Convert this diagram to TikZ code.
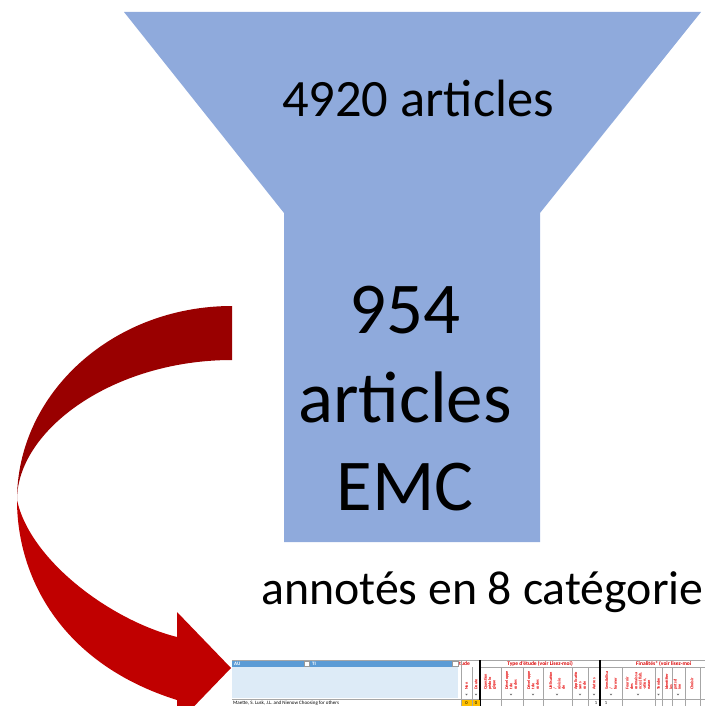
\documentclass[tikz,border=0pt]{standalone}
\usepackage{fontspec}
\setmainfont{Carlito}
\begin{document}
\begin{tikzpicture}[x=1pt,y=-1pt,
  bigtxt/.style={inner sep=0pt,anchor=base,font=\fontsize{73}{80}\selectfont},
  midtxt/.style={inner sep=0pt,anchor=base,font=\fontsize{52.5}{60}\selectfont},
  annot/.style={inner sep=0pt,anchor=base west,font=\fontsize{47.8}{50}\selectfont},
  hdr/.style={inner sep=0pt,anchor=west,text=white,font=\fontsize{5}{5}\selectfont\bfseries},
  redhdr/.style={inner sep=0pt,text=red!85!black,font=\fontsize{5.5}{5.5}\selectfont\bfseries},
  rot/.style={inner sep=0pt,rotate=90,anchor=west,text=red!90!black,align=left,font=\fontsize{4.2}{4.3}\selectfont\bfseries},
  gridline/.style={draw=black!35,line width=0.4pt},
  thick sep/.style={draw=black,line width=1.4pt},
  ddbox/.style={draw=black!40,fill=white,line width=0.3pt}
]
\definecolor{funnelblue}{HTML}{8FAADC}
\definecolor{arrowdark}{HTML}{990000}
\definecolor{arrowlight}{HTML}{C00000}
\definecolor{xlhead}{HTML}{5B9BD5}
\definecolor{xlpale}{HTML}{DDEBF7}
\definecolor{xlyellow}{HTML}{FFC000}
\useasboundingbox (0,0) rectangle (705,706);
\clip (0,0) rectangle (705,706);

% funnel
\fill[funnelblue] (124,12) -- (701,12) -- (540,213) -- (540,542) -- (284,542) -- (284,213) -- cycle;
\node[midtxt] (n4920) at (418,117) {4920 articles};
\node[bigtxt] (n954) at (405,333) {954};
\node[bigtxt] (nart) at (405,422) {articles};
\node[bigtxt] (nemc) at (405,510) {EMC};

\node[annot] (annot) at (261,604) {annotés en 8 catégorie};

% twisted curved arrow
\fill[arrowdark] (232,306) .. controls (113,306) and (17,393) .. (17,500)
  .. controls (17,430) and (113,360) .. (232,360) -- cycle;
\fill[arrowlight] (17,500) .. controls (30,560) and (110,620) .. (177,637)
  -- (177,612) -- (231,668) -- (177,724) -- (177,700)
  .. controls (62,664) and (17,578) .. (17,500) -- cycle;

% spreadsheet strip
\fill[xlhead] (232,660) rectangle (458,667);
\fill[xlpale] (232,667) rectangle (458,698);
\node[hdr] (au) at (234,663.5) {AU};
\node[hdr] (ti) at (312,663.5) {TI};
\draw[ddbox] (304,661) rectangle (309.5,666);
\draw[ddbox] (452.5,661) rectangle (458,666);
\node[redhdr,anchor=west] (etude) at (459,663.5) {tude};
\node[redhdr] (type) at (540,663.5) {Type d'étude (voir Lisez-moi)};
\node[redhdr,anchor=west] (fin) at (636,663.5) {Finalités* (voir lisez-moi};

% grid
\draw[gridline] (232,660) -- (705,660);
\draw[gridline] (480,667) -- (705,667);
\draw[gridline] (232,699) -- (705,699);
\foreach \gx in {461,472,501,523,543,572,588,622,655,662,672,685,700}
  \draw[gridline] (\gx,667) -- (\gx,706);
\draw[gridline] (461,660) -- (461,706);
\draw[thick sep] (480,660) -- (480,706);
\draw[thick sep] (600,660) -- (600,706);

% column headings
\node[rot] (c1) at (466.5,690) {Non};
\node[rot] (c2) at (476,690) {Doute};
\node[rot] (c3) at (490,690) {Question\\ pédolo\\ gique};
\node[rot] (c4) at (511,690) {Développe\\ t de\\ codes};
\node[rot] (c5) at (533,690) {Développe\\ t de\\ codes};
\node[rot] (c6) at (557,690) {Utilisation\\ /\\ révisio\\ de};
\node[rot] (c7) at (580,690) {Applicatio\\ sans\\ code};
\node[rot] (c8) at (594,690) {Autres};
\node[rot] (c9) at (611,690) {Sensibilisa\\ /\\ former};
\node[rot] (c10) at (638,690) {Fournir\\ des\\ connaissa\\ nces (fiab.\\ -ation,\\ naran};
\node[rot] (c11) at (658.5,690) {Tendre};
\node[rot] (c12) at (673,690) {Identifier\\ les\\ pnts d\\ ine};
\node[rot] (c13) at (692,690) {Choisir};

% drop-down buttons
\foreach \bx in {466.5,476,511,533,557,580,594,611,638,658.5,678}
  \fill[black!60] (\bx-1.3,693.8) -- (\bx+1.3,693.8) -- (\bx,695.4) -- cycle;

% data row
\node[inner sep=0pt,anchor=west,font=\fontsize{5}{5}\selectfont] (row1) at (233,703.5) {Maette, S. Lusk, J.L. and Nienow Choosing for others};
\fill[xlyellow] (461.5,700) rectangle (471.5,706);
\fill[xlyellow] (472.5,700) rectangle (479.5,706);
\node[inner sep=0pt,font=\fontsize{4.5}{4.5}\selectfont] at (466.5,703.5) {0};
\node[inner sep=0pt,font=\fontsize{4.5}{4.5}\selectfont] at (476,703.5) {0};
\node[inner sep=0pt,font=\fontsize{4.5}{4.5}\selectfont] at (596,703.5) {1};
\node[inner sep=0pt,font=\fontsize{4.5}{4.5}\selectfont] at (606,703.5) {1};
\end{tikzpicture}
\end{document}
